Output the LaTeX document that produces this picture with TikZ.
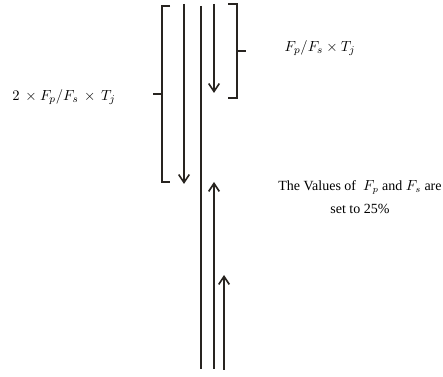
\documentclass[tikz,border=0pt]{standalone}
\usepackage{fontspec}
\setmainfont{Liberation Serif}
\usetikzlibrary{arrows.meta,positioning}

\begin{document}
\begin{tikzpicture}[x=0.75pt,y=-0.75pt,>={Straight Barb[length=6pt,width=8pt]},
   line width=1.2pt,draw={rgb,255:red,40;green,36;blue,32},
   every node/.style={font=\fontsize{11}{17}\selectfont},
   brk/.style={line width=0.9pt}]
  \useasboundingbox (0,0) rectangle (443,377);
  % vertical lines
  \coordinate (a1) at (184,4);   \coordinate (a2) at (184,184);
  \coordinate (m1) at (201,6);   \coordinate (m2) at (201,369);
  \coordinate (b1) at (214,4);   \coordinate (b2) at (214,93);
  \coordinate (c1) at (214,369); \coordinate (c2) at (214,182);
  \coordinate (d1) at (224,370); \coordinate (d2) at (224,275);
  \draw[->] (a1) -- (a2);
  \draw (m1) -- (m2);
  \draw[->] (b1) -- (b2);
  \draw[->] (c1) -- (c2);
  \draw[->] (d1) -- (d2);
  % brackets
  \draw[brk] (170,6) -- (162,6) -- (162,182) -- (170,182);
  \draw[brk] (162,94) -- (153,94);
  \draw[brk] (228,4) -- (237,4) -- (237,98) -- (228,98);
  \draw[brk] (237,51) -- (246,51);
  % labels
  \node (lft) at (64,97) {$2\,\times F_p/F_s \,\times\, T_j$};
  \node (rgt) at (320,48) {$F_p/F_s\times T_j$};
  \node (note) [align=center,font=\fontsize{10.5}{17}\selectfont] at (360,197)
     {The Values of \ $F_p$ and $F_s$ are\\set to 25\%};
\end{tikzpicture}
\end{document}
